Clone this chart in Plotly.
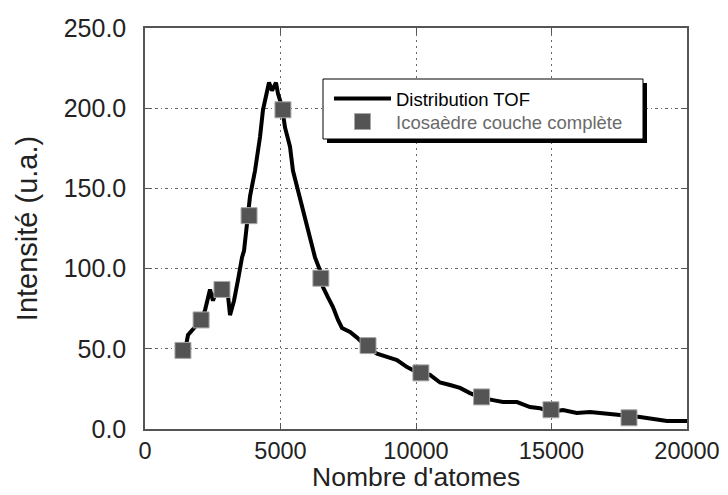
import plotly.graph_objects as go

# TOF distribution
tof_x = [1513, 1587, 1845, 2103, 2214, 2330, 2399, 2509, 2657, 2878, 3063, 3137, 3284, 3432, 3506,
         3580, 3653, 3764, 3875, 4059, 4244, 4354, 4502, 4576, 4686, 4760, 4834, 4908, 5055, 5166,
         5351, 5461, 5646, 5830, 6015, 6089, 6273, 6458, 6568, 6753, 6937, 7122, 7269, 7565, 7823,
         8192, 8561, 8930, 9299, 9668, 10037, 10517, 10886, 11255, 11624, 11993, 12435, 12841,
         13210, 13727, 14207, 14576, 14945, 15424, 15931, 16421, 16716, 17159, 17528, 18266,
         18745, 19262, 20000]
tof_y = [52, 58.6, 63.6, 69, 74, 82, 87, 80, 87, 88, 83, 71, 80, 93, 101,
         107, 111, 126, 145, 161, 182, 199, 209, 216, 211, 214, 216, 209, 201, 188,
         176, 161, 149, 136.5, 124, 118, 107, 99, 88.5, 82, 76, 68, 63, 60.5, 57,
         51, 47, 45, 43, 38.6, 35.5, 33.7, 29, 27.4, 25.6, 22.4, 19.3, 18,
         16.8, 16.8, 13.7, 13, 10.6, 11.8, 10, 10.6, 10, 9.4, 8.7, 7.5,
         6.2, 5, 5]

# Icosahedra full shell
ico_x = [1400, 2070, 2840, 3840, 5090, 6490, 8230, 10180, 12420, 14980, 17860]
ico_y = [49, 68, 87, 133, 199, 94, 52, 35, 20, 12, 7]

x_ticks = [0, 5000, 10000, 15000, 20000]
y_ticks = [0, 50, 100, 150, 200, 250]

# plot area in page pixels (page body has an 8px margin)
PL, PR, PT, PB = 145, 687, 28, 429


def px(xp):
    return (xp - PL) / (PR - PL)


def py(yp):
    return 1 - (yp - PT) / (PB - PT)


FONT = "Liberation Sans, Arial"

fig = go.Figure()
fig.add_trace(go.Scatter(x=tof_x, y=tof_y, mode="lines", name="Distribution TOF",
                         line=dict(color="black", width=4), legend="legend"))
fig.add_trace(go.Scatter(x=ico_x, y=ico_y, mode="markers",
                         name='<span style="color:#6a6a6a">Icosaèdre couche complète</span>',
                         marker=dict(symbol="square", size=16, color="#545454",
                                     line=dict(color="#a8a8a8", width=1)),
                         legend="legend2"))

axis_common = dict(showline=True, linecolor="#555555", linewidth=1.5, mirror="ticks",
                   ticks="inside", ticklen=6, tickcolor="#555555", showgrid=True,
                   gridcolor="#666666", gridwidth=1, zeroline=False, automargin=False)

fig.update_xaxes(range=[0, 20000], tickvals=x_ticks, ticktext=[str(v) for v in x_ticks],
                 griddash="2px,4px",
                 tickfont=dict(family=FONT, size=23.5, color="#222222"),
                 **axis_common)
fig.update_yaxes(range=[0, 250], tickvals=y_ticks, ticktext=[f"{v:.1f}" for v in y_ticks],
                 griddash="3px,3px,1px,3px", title_text="Intensité (u.a.)", title_standoff=18,
                 ticklabelstandoff=12,
                 tickfont=dict(family=FONT, size=25, color="#222222"),
                 title_font=dict(family=FONT, size=29, color="#222222"),
                 **axis_common)

fig.add_annotation(text="Nombre d'atomes", xref="paper", yref="paper", x=0.5, y=0,
                   xanchor="center", yanchor="middle", yshift=-(477 - PB), showarrow=False,
                   font=dict(family=FONT, size=26.5, color="#222222"))

# legend shadow and box
fig.add_shape(type="rect", xref="paper", yref="paper",
              x0=px(327), x1=px(647), y0=py(143), y1=py(83),
              fillcolor="black", line=dict(width=0), layer="above")
fig.add_shape(type="rect", xref="paper", yref="paper",
              x0=px(323), x1=px(643), y0=py(139), y1=py(79),
              fillcolor="white", line=dict(color="black", width=1), layer="above")

leg_common = dict(xanchor="left", yanchor="middle", bgcolor="rgba(0,0,0,0)", borderwidth=0,
                  font=dict(family=FONT, size=18.5, color="black"), itemwidth=57)

fig.update_layout(
    width=720, height=487,
    margin=dict(l=PL - 8, r=720 + 8 - PR, t=PT - 8, b=487 + 8 - PB),
    plot_bgcolor="white", paper_bgcolor="white",
    legend=dict(x=px(329), y=py(99), **leg_common),
    legend2=dict(x=px(329), y=py(122), **leg_common),
    showlegend=True,
)

fig.write_html("out.html")
